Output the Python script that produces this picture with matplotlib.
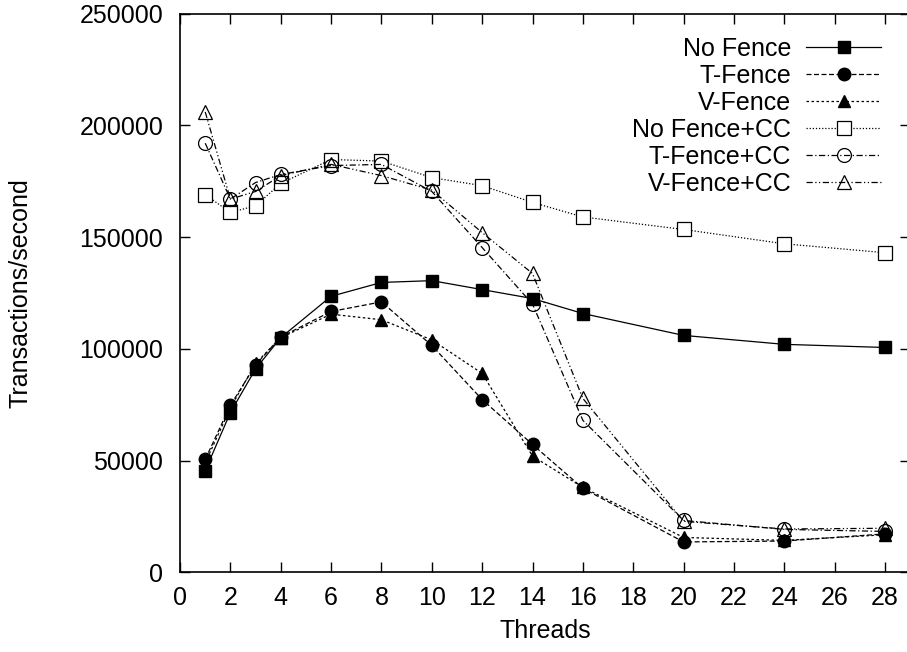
import matplotlib
matplotlib.use("Agg")
import matplotlib.pyplot as plt

plt.rcParams['font.family'] = ['Liberation Sans', 'DejaVu Sans']

# Daten
threads = [1, 2, 3, 4, 6, 8, 10, 12, 14, 16, 20, 24, 28]

no_fence = [45500, 71500, 91000, 105000, 123500, 129700, 130500, 126500, 122500, 115800, 106000, 102000, 100600]
t_fence = [50500, 74700, 92800, 105300, 116700, 121000, 101500, 77300, 57200, 37600, 13600, 14000, 17200]
v_fence = [49000, 73500, 93500, 105000, 115500, 113000, 104000, 89000, 52000, 38000, 15600, 14300, 16800]
no_fence_cc = [169000, 161000, 164000, 174000, 184700, 184000, 176600, 173000, 165500, 159000, 153400, 147000, 143000]
t_fence_cc = [192000, 167000, 174400, 178000, 182000, 182500, 170400, 145300, 120000, 68000, 23200, 19200, 18300]
v_fence_cc = [206000, 167000, 170400, 177500, 182500, 177500, 171000, 152000, 133700, 77800, 22800, 19400, 19700]

labels = ["No Fence", "T-Fence", "V-Fence", "No Fence+CC", "T-Fence+CC", "V-Fence+CC"]
x_ticks = list(range(0, 29, 2))
y_ticks = [0, 50000, 100000, 150000, 200000, 250000]

fig = plt.figure(figsize=(9.07, 6.52), dpi=100)
ax = fig.add_axes([0.1985, 0.1222, 0.805, 0.857])

lw = 0.9
ax.plot(threads, no_fence, color="black", lw=lw, ls="-", marker="s", ms=8.5, label=labels[0])
ax.plot(threads, t_fence, color="black", lw=lw, ls=(0, (4, 2)), marker="o", ms=9, label=labels[1])
ax.plot(threads, v_fence, color="black", lw=lw, ls=(0, (2, 2)), marker="^", ms=8.5, label=labels[2])
ax.plot(threads, no_fence_cc, color="black", lw=lw, ls=(0, (1, 1.5)), marker="s", ms=9.5,
        mfc="white", mew=0.9, label=labels[3])
ax.plot(threads, t_fence_cc, color="black", lw=lw, ls=(0, (5, 2, 1, 2)), marker="o", ms=10,
        mfc="none", mew=0.9, label=labels[4])
ax.plot(threads, v_fence_cc, color="black", lw=lw, ls=(0, (5, 2, 1, 2, 1, 2)), marker="^", ms=10,
        mfc="none", mew=0.9, label=labels[5])

ax.set_xlim(0, 29)
ax.set_ylim(0, 250000)
ax.set_xticks(x_ticks)
ax.set_yticks(y_ticks)
ax.tick_params(axis="both", direction="in", top=True, right=True, length=7, width=1, labelsize=18)
ax.tick_params(axis="x", pad=10)
ax.tick_params(axis="y", pad=12)
for s in ax.spines.values():
    s.set_linewidth(1.2)

ax.set_xlabel("Threads", fontsize=18, labelpad=6)
ax.set_ylabel("Transactions/second", fontsize=18, labelpad=34)

ax.legend(loc="upper right", bbox_to_anchor=(0.974, 0.976), frameon=False, markerfirst=False,
          fontsize=18, handlelength=3.0, labelspacing=0.12, handletextpad=0.6, borderaxespad=0)

fig.savefig("out.png", dpi=100)
